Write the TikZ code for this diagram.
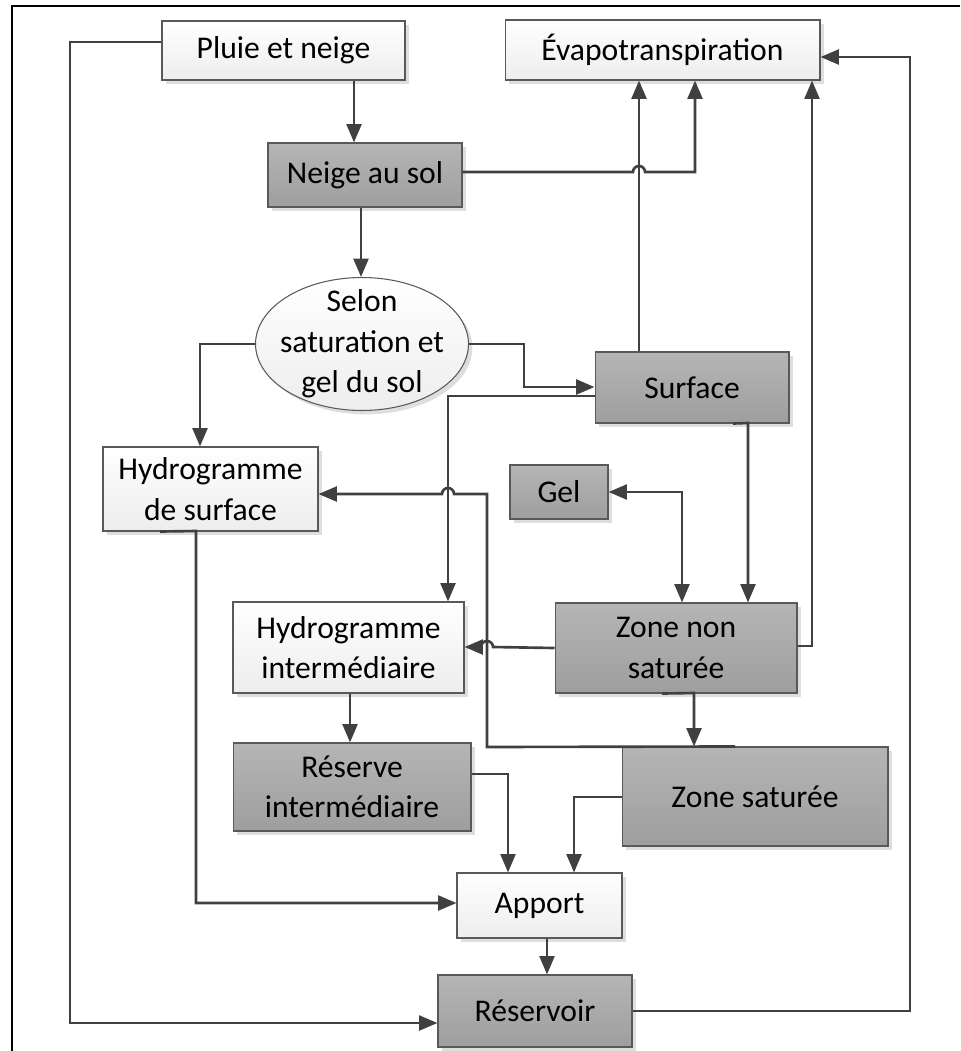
\documentclass[tikz,border=0pt]{standalone}
\usepackage{fontspec}
\setmainfont{Carlito}
\usetikzlibrary{shapes.geometric,arrows.meta,shadows,positioning}

\begin{document}
\begin{tikzpicture}[x=0.02cm, y=-0.02cm, font=\fontsize{18}{23}\selectfont,
   >={Triangle[length=10.5pt,width=8.5pt]},
   box/.style={rectangle, draw=black!65, line width=0.6pt, align=center, inner sep=0pt,
     drop shadow={shadow xshift=2.2pt, shadow yshift=-2.2pt, fill=black!13, opacity=1}},
   light/.style={box, top color=white, bottom color=black!7},
   dark/.style={box, top color=black!29, bottom color=black!38},
   flow/.style={->, draw=black!75, line width=1.5pt}]
   \useasboundingbox (0,0) rectangle (960,1051);
   \draw[line width=1.6pt] (12,1051) -- (12,6) -- (960,6);

   % boxes
   \node (pluie) [light, minimum width=4.86cm, minimum height=1.18cm] at (283.5,50.5) {Pluie et neige};
   \node (evapo) [light, minimum width=6.3cm, minimum height=1.2cm] at (662.5,50) {Évapotranspiration};
   \node (neige) [dark, minimum width=3.88cm, minimum height=1.28cm] at (365,175) {Neige au sol};
   \node (selon) [ellipse, draw=black!65, line width=0.6pt, align=center, inner xsep=-8pt, inner ysep=-8pt,
      top color=white, bottom color=black!7, minimum width=4.26cm, minimum height=2.66cm,
      drop shadow={shadow xshift=2.2pt, shadow yshift=-2.2pt, fill=black!13, opacity=1}]
      at (362,344) {Selon\\saturation et\\gel du sol};
   \node (surface) [dark, minimum width=3.88cm, minimum height=1.42cm] at (692,387.5) {Surface};
   \node (hydrosurf) [light, minimum width=4.3cm, minimum height=1.68cm] at (210.5,489) {Hydrogramme\\de surface};
   \node (gel) [dark, minimum width=1.96cm, minimum height=1.08cm] at (559,492) {Gel};
   \node (hydroint) [light, minimum width=4.62cm, minimum height=1.82cm] at (348.5,647.5) {Hydrogramme\\intermédiaire};
   \node (zns) [dark, minimum width=4.84cm, minimum height=1.8cm] at (676,648) {Zone non\\saturée};
   \node (resint) [dark, minimum width=4.76cm, minimum height=1.76cm] at (352,787) {Réserve\\intermédiaire};
   \node (zsat) [dark, minimum width=5.32cm, minimum height=1.98cm] at (755,796.5) {Zone saturée};
   \node (apport) [light, minimum width=3.3cm, minimum height=1.3cm] at (539.5,905.5) {Apport};
   \node (reservoir) [dark, minimum width=3.88cm, minimum height=1.44cm] at (535,1011) {Réservoir};

   % flows
   \draw[flow] (pluie.west |- 0,42) -| (70,1023) -- (reservoir.west |- 0,1023);
   \draw[flow] (pluie.south -| 354,0) -- (neige.north -| 354,0);
   \draw[flow] (neige.east |- 0,172) -- (633,172) arc[start angle=180, end angle=0, radius=0.12cm]
      -- (695,172) -- (evapo.south -| 695,0);
   \draw[flow] (neige.south -| 361,0) -- (selon.north -| 361,0);
   \draw[flow] (selon.west) -| (hydrosurf.north -| 200,0);
   \draw[flow] (selon.east) -- (524,344) |- (surface.west |- 0,387);
   \draw[flow] (surface.north -| 639,0) -- (evapo.south -| 639,0);
   \draw[flow] (surface.west |- 0,396) -| (hydroint.north -| 448,0);
   \draw[flow] (surface.south -| 733,0) -- (748,423) -- (zns.north -| 748,0);
   \draw[flow, <->] (gel.east) -| (zns.north -| 682,0);
   \draw[flow] (zns.east |- 0,646) -| (evapo.south -| 812,0);
   \draw[flow] (zns.west) -- (493,647) arc[start angle=0, end angle=180, radius=0.12cm]
      -- (hydroint.east |- 0,647);
   \draw[flow] (zns.south -| 662,0) -- (694,693) -- (zsat.north -| 694,0);
   \draw[flow] (zsat.north -| 735,0) -- (487,747) -- (487,494) -- (454,494)
      arc[start angle=0, end angle=180, radius=0.12cm] -- (hydrosurf.east |- 0,494);
   \draw[flow] (hydrosurf.south -| 160,0) -- (196,531) |- (apport.west |- 0,903);
   \draw[flow] (hydroint.south -| 350,0) -- (resint.north -| 350,0);
   \draw[flow] (resint.east |- 0,774) -| (apport.north -| 508,0);
   \draw[flow] (zsat.west |- 0,797) -| (apport.north -| 574,0);
   \draw[flow] (apport.south -| 547,0) -- (reservoir.north -| 547,0);
   \draw[flow] (reservoir.east) -| (910,57) -- (evapo.east |- 0,57);
\end{tikzpicture}
\end{document}
